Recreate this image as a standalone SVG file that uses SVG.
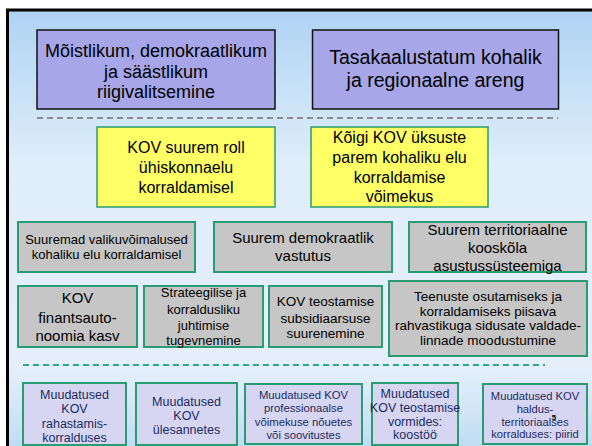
<svg xmlns="http://www.w3.org/2000/svg" width="592" height="446" viewBox="0 0 592 446">
<defs>
<linearGradient id="bg" x1="0" y1="0" x2="0" y2="1">
<stop offset="0" stop-color="#aed3f3"/>
<stop offset="0.35" stop-color="#e0eefa"/>
<stop offset="0.8" stop-color="#e4effa"/>
<stop offset="1" stop-color="#b9d9f2"/>
</linearGradient>
<style>
text{font-family:"Liberation Sans",Arial,sans-serif;text-anchor:middle;fill:#000}
.p{fill:#a6a6e8;stroke:#111;stroke-width:1.5}
.y{fill:#ffff66;stroke:#2a9c72;stroke-width:1.5}
.g{fill:#c6c6c6;stroke:#2a9c72;stroke-width:2}
.l{fill:#d6d6f3;stroke:#2a9c72;stroke-width:2}
.b text, text.b{fill:#1c2b5e}
</style>
</defs>
<rect x="0" y="0" width="592" height="446" fill="#fff"/>
<rect x="7.5" y="10" width="600" height="450" fill="url(#bg)" stroke="#000" stroke-width="3"/>
<g id="connectors">
<line x1="37" y1="118" x2="558" y2="118" stroke="#8c8c8c" stroke-width="2" stroke-dasharray="6,4"/>
<line x1="23" y1="365" x2="545" y2="365" stroke="#2aaa88" stroke-width="2" stroke-dasharray="6,4"/>
</g>
<g id="n1"><rect class="p" x="37" y="30" width="238" height="79"/>
<text font-size="18" x="156"><tspan x="156" y="57">Mõistlikum, demokraatlikum</tspan><tspan x="156" y="78">ja säästlikum</tspan><tspan x="156" y="98">riigivalitsemine</tspan></text></g>
<g id="n2"><rect class="p" x="312.5" y="30" width="246" height="79"/>
<text font-size="19.5"><tspan x="435.5" y="64">Tasakaalustatum kohalik</tspan><tspan x="435.5" y="87">ja regionaalne areng</tspan></text></g>
<g id="n3"><rect class="y" x="97" y="127" width="178" height="80"/>
<text font-size="16"><tspan x="186" y="153">KOV suurem roll</tspan><tspan x="186" y="173">ühiskonnaelu</tspan><tspan x="186" y="193">korraldamisel</tspan></text></g>
<g id="n4"><rect class="y" x="311" y="127" width="177" height="80"/>
<text font-size="16"><tspan x="399.5" y="143">Kõigi KOV üksuste</tspan><tspan x="399.5" y="163">parem kohaliku elu</tspan><tspan x="399.5" y="183">korraldamise</tspan><tspan x="399.5" y="202">võimekus</tspan></text></g>
<g id="n5"><rect class="g" x="18" y="222" width="177" height="50"/>
<text font-size="13"><tspan x="106.5" y="244">Suuremad valikuvõimalused</tspan><tspan x="106.5" y="259">kohaliku elu korraldamisel</tspan></text></g>
<g id="n6"><rect class="g" x="214" y="222" width="178" height="50"/>
<text font-size="15"><tspan x="303" y="243">Suurem demokraatlik</tspan><tspan x="303" y="261">vastutus</tspan></text></g>
<g id="n7"><rect class="g" x="409" y="222" width="177" height="50"/>
<text font-size="15"><tspan x="497.5" y="235">Suurem territoriaalne</tspan><tspan x="497.5" y="253">kooskõla</tspan><tspan x="497.5" y="271">asustussüsteemiga</tspan></text></g>
<g id="n8"><rect class="g" x="18" y="286" width="119" height="61"/>
<text font-size="15"><tspan x="77.5" y="303">KOV</tspan><tspan x="77.5" y="323">finantsauto-</tspan><tspan x="77.5" y="341">noomia kasv</tspan></text></g>
<g id="n9"><rect class="g" x="144" y="286" width="119" height="61"/>
<text font-size="13"><tspan x="203.5" y="297">Strateegilise ja</tspan><tspan x="203.5" y="314">korraldusliku</tspan><tspan x="203.5" y="330">juhtimise</tspan><tspan x="203.5" y="345">tugevnemine</tspan></text></g>
<g id="n10"><rect class="g" x="269" y="286" width="113" height="61"/>
<text font-size="13.5"><tspan x="325.5" y="306">KOV teostamise</tspan><tspan x="325.5" y="323">subsidiaarsuse</tspan><tspan x="325.5" y="338">suurenemine</tspan></text></g>
<g id="n11"><rect class="g" x="389" y="281" width="198" height="75"/>
<text font-size="13.5"><tspan x="488" y="301">Teenuste osutamiseks ja</tspan><tspan x="488" y="315.5">korraldamiseks piisava</tspan><tspan x="488" y="330">rahvastikuga sidusate valdade-</tspan><tspan x="488" y="344.5">linnade moodustumine</tspan></text></g>
<g id="n12" class="b"><rect class="l" x="23" y="383" width="103" height="62"/>
<text font-size="12.5"><tspan x="74.5" y="399">Muudatused</tspan><tspan x="74.5" y="413">KOV</tspan><tspan x="74.5" y="427.5">rahastamis-</tspan><tspan x="74.5" y="442">korralduses</tspan></text></g>
<g id="n13" class="b"><rect class="l" x="136" y="383" width="101" height="62"/>
<text font-size="12.5"><tspan x="186.5" y="406">Muudatused</tspan><tspan x="186.5" y="420">KOV</tspan><tspan x="186.5" y="434">ülesannetes</tspan></text></g>
<g id="n14" class="b"><rect class="l" x="245" y="384" width="117" height="60"/>
<text font-size="11.3"><tspan x="303.5" y="399">Muudatused KOV</tspan><tspan x="303.5" y="412">professionaalse</tspan><tspan x="303.5" y="425.5">võimekuse nõuetes</tspan><tspan x="303.5" y="439">või soovitustes</tspan></text></g>
<g id="n15" class="b"><rect class="l" x="372" y="383" width="86" height="62"/>
<text font-size="12.5"><tspan x="415" y="397.5">Muudatused</tspan><tspan x="415" y="411.5">KOV teostamise</tspan><tspan x="415" y="425.5">vormides:</tspan><tspan x="415" y="439">koostöö</tspan></text></g>
<g id="n16" class="b"><rect class="l" x="483" y="384" width="104" height="60"/>
<text font-size="11.2"><tspan x="535" y="400">Muudatused KOV</tspan><tspan x="535" y="412.7">haldus-</tspan><tspan x="535" y="425.7">territoriaalses</tspan><tspan x="535" y="438">korralduses: piirid</tspan></text></g>
<text class="b" x="554" y="420" font-size="8" font-weight="bold" style="fill:#000">5</text>
</svg>
